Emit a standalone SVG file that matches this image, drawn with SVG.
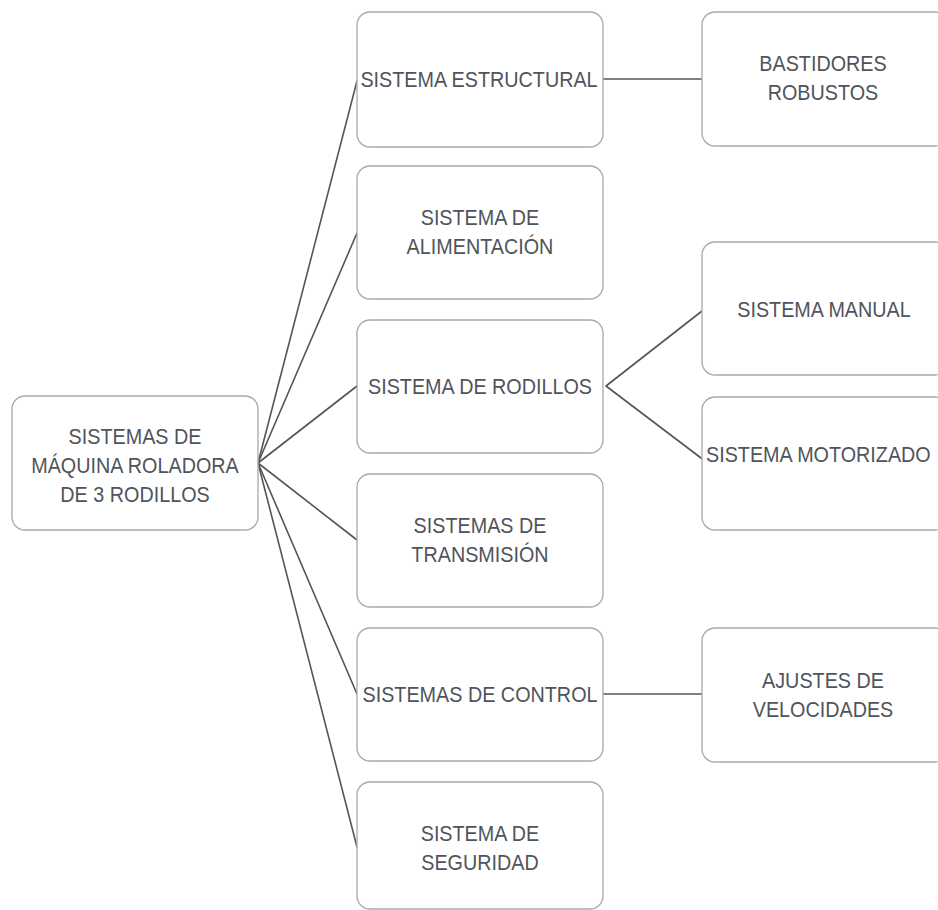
<svg xmlns="http://www.w3.org/2000/svg" width="938" height="910" viewBox="0 0 938 910">
  <style>
    .box { fill: #ffffff; stroke: #a9a9a9; stroke-width: 1.3; }
    .lbl { font-family: "Liberation Sans", "Open Sans", Arial, sans-serif; font-size: 21.5px; fill: #4f545c; text-anchor: middle; }
    .lbl-left { text-anchor: start; }
    .link { fill: none; stroke: #555555; stroke-width: 1.6; stroke-linecap: round; stroke-linejoin: round; }
  </style>
  <rect width="938" height="910" fill="#ffffff"/>

  <!-- connectors -->
  <g id="connectors">
    <path class="link" d="M258 463 L357 81"/>
    <path class="link" d="M258 463 L357 233"/>
    <path class="link" d="M258 463 L357 386"/>
    <path class="link" d="M258 463 L357 540"/>
    <path class="link" d="M258 463 L357 694"/>
    <path class="link" d="M258 463 L357 847"/>
    <path class="link" d="M603 79 L702 79"/>
    <path class="link" d="M606 386 L702 311 M606 386 L705 461"/>
    <path class="link" d="M603 694 L702 694"/>
  </g>

  <!-- root -->
  <g id="root">
    <rect class="box" x="12" y="396" width="246" height="134" rx="13"/>
    <text class="lbl" transform="translate(135 444) scale(0.92 1)">SISTEMAS DE</text>
    <text class="lbl" transform="translate(135 473) scale(0.92 1)">MÁQUINA ROLADORA</text>
    <text class="lbl" transform="translate(135 502) scale(0.92 1)">DE 3 RODILLOS</text>
  </g>

  <!-- second level -->
  <g id="estructural">
    <rect class="box" x="357" y="12" width="246" height="135" rx="13"/>
    <text class="lbl" transform="translate(479 87) scale(0.92 1)">SISTEMA ESTRUCTURAL</text>
  </g>
  <g id="alimentacion">
    <rect class="box" x="357" y="166" width="246" height="133" rx="13"/>
    <text class="lbl" transform="translate(480 225) scale(0.92 1)">SISTEMA DE</text>
    <text class="lbl" transform="translate(480 254) scale(0.92 1)">ALIMENTACIÓN</text>
  </g>
  <g id="rodillos">
    <rect class="box" x="357" y="320" width="246" height="133" rx="13"/>
    <text class="lbl" transform="translate(480 394) scale(0.92 1)">SISTEMA DE RODILLOS</text>
  </g>
  <g id="transmision">
    <rect class="box" x="357" y="474" width="246" height="133" rx="13"/>
    <text class="lbl" transform="translate(480 533) scale(0.92 1)">SISTEMAS DE</text>
    <text class="lbl" transform="translate(480 562) scale(0.92 1)">TRANSMISIÓN</text>
  </g>
  <g id="control">
    <rect class="box" x="357" y="628" width="246" height="133" rx="13"/>
    <text class="lbl" transform="translate(480 702) scale(0.92 1)">SISTEMAS DE CONTROL</text>
  </g>
  <g id="seguridad">
    <rect class="box" x="357" y="782" width="246" height="127" rx="13"/>
    <text class="lbl" transform="translate(480 841) scale(0.92 1)">SISTEMA DE</text>
    <text class="lbl" transform="translate(480 870) scale(0.92 1)">SEGURIDAD</text>
  </g>

  <!-- third level -->
  <g id="bastidores">
    <rect class="box" x="702" y="12" width="246" height="134" rx="13"/>
    <text class="lbl" transform="translate(823 71) scale(0.92 1)">BASTIDORES</text>
    <text class="lbl" transform="translate(823 100) scale(0.92 1)">ROBUSTOS</text>
  </g>
  <g id="manual">
    <rect class="box" x="702" y="242" width="246" height="133" rx="13"/>
    <text class="lbl" transform="translate(824 317) scale(0.92 1)">SISTEMA MANUAL</text>
  </g>
  <g id="motorizado">
    <rect class="box" x="702" y="397" width="246" height="133" rx="13"/>
    <text class="lbl lbl-left" transform="translate(706 462) scale(0.92 1)">SISTEMA MOTORIZADO</text>
  </g>
  <g id="velocidades">
    <rect class="box" x="702" y="628" width="246" height="134" rx="13"/>
    <text class="lbl" transform="translate(823 688) scale(0.92 1)">AJUSTES DE</text>
    <text class="lbl" transform="translate(823 717) scale(0.92 1)">VELOCIDADES</text>
  </g>
</svg>
